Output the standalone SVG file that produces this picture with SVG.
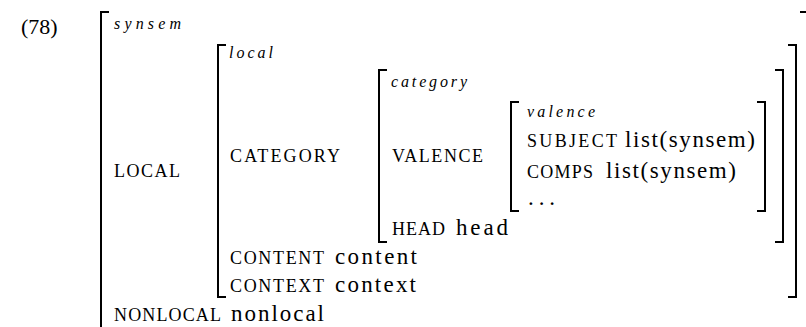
<svg xmlns="http://www.w3.org/2000/svg" width="806" height="327" viewBox="0 0 806 327">
<style>
text{font-family:"Liberation Serif","Times New Roman",serif;fill:#000}
.r{font-size:23px}
.n{font-size:22px}
.sc{font-size:18px}
.it{font-size:16px;font-style:italic}
.br{fill:none;stroke:#000;stroke-width:2}
</style>
<rect width="806" height="327" fill="#fff"/>
<text class="n" x="21" y="34">(78)</text>
<g id="synsem">
<path class="br" d="M109,12 H101 V330"/>
<path class="br" d="M800,12 H807 V330"/>
<text class="it" x="114" y="29" textLength="67" lengthAdjust="spacing">synsem</text>
<text class="sc" x="114" y="177" textLength="66" lengthAdjust="spacing">LOCAL</text>
<text x="114" y="321"><tspan class="sc" textLength="107" lengthAdjust="spacing">NONLOCAL</tspan><tspan class="r" x="231" textLength="93" lengthAdjust="spacing">nonlocal</tspan></text>
</g>
<g id="local">
<path class="br" d="M226,45 H218 V297 H226"/>
<path class="br" d="M788,45 H796 V297 H788"/>
<text class="it" x="229" y="58" textLength="44" lengthAdjust="spacing">local</text>
<text class="sc" x="230" y="162" textLength="110" lengthAdjust="spacing">CATEGORY</text>
<text x="230" y="264"><tspan class="sc" textLength="94" lengthAdjust="spacing">CONTENT</tspan><tspan class="r" x="335" textLength="82" lengthAdjust="spacing">content</tspan></text>
<text x="230" y="292"><tspan class="sc" textLength="94" lengthAdjust="spacing">CONTEXT</tspan><tspan class="r" x="335" textLength="81" lengthAdjust="spacing">context</tspan></text>
</g>
<g id="category">
<path class="br" d="M387,70 H379 V242 H387"/>
<path class="br" d="M775,70 H783 V242 H775"/>
<text class="it" x="391" y="87" textLength="76" lengthAdjust="spacing">category</text>
<text class="sc" x="392" y="162" textLength="91" lengthAdjust="spacing">VALENCE</text>
<text x="392" y="235"><tspan class="sc" textLength="53" lengthAdjust="spacing">HEAD</tspan><tspan class="r" x="456" textLength="52" lengthAdjust="spacing">head</tspan></text>
</g>
<g id="valence">
<path class="br" d="M519,102 H511 V211 H519"/>
<path class="br" d="M757,102 H765 V211 H757"/>
<text class="it" x="527" y="117" textLength="68" lengthAdjust="spacing">valence</text>
<text x="527" y="147"><tspan class="sc" textLength="90" lengthAdjust="spacing">SUBJECT</tspan><tspan class="r" x="625" textLength="130" lengthAdjust="spacing">list(synsem)</tspan></text>
<text x="527" y="178"><tspan class="sc" textLength="66" lengthAdjust="spacing">COMPS</tspan><tspan class="r" x="606" textLength="130" lengthAdjust="spacing">list(synsem)</tspan></text>
<text class="r" x="528" y="205" textLength="27" lengthAdjust="spacing">...</text>
</g>
<g id="connectors"></g>
</svg>
